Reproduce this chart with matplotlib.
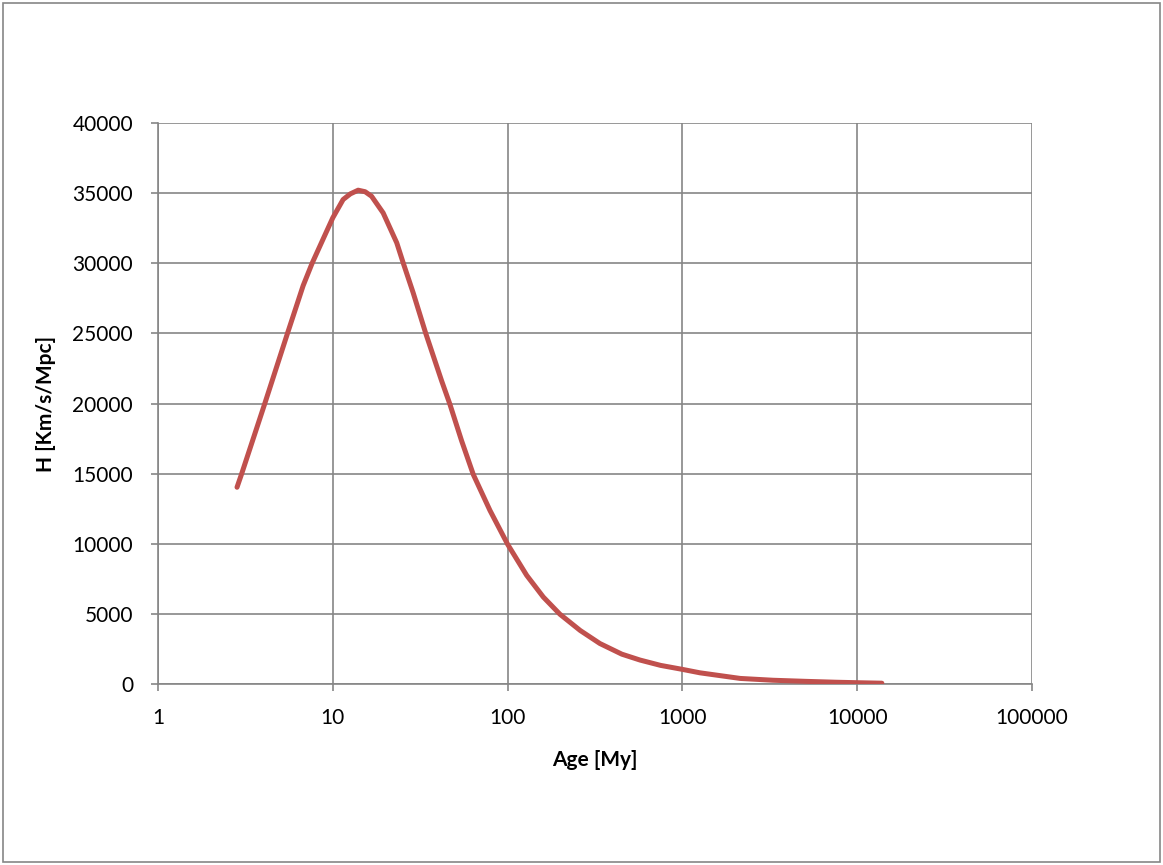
import matplotlib.pyplot as plt
from matplotlib.patches import Rectangle

# values
age = [2.83, 3.01, 4.08, 5.5, 6.76, 7.61, 8.07, 9.0, 10, 11.45, 12.6, 13.96,
       15.3, 16.65, 19.4, 23.2, 25.3, 28.8, 34, 41.9, 46.7, 54.5, 63.6, 79.2,
       100, 128.5, 160, 199, 260, 337, 450, 572, 750, 1000, 1260, 2140, 3300,
       5140, 7500, 10000, 13830]
hubble = [14030, 15000, 20000, 25000, 28400, 30000, 30700, 32000, 33250, 34545,
          34950, 35210, 35100, 34780, 33590, 31460, 30000, 27900, 25000, 21620,
          19960, 17350, 14940, 12380, 9960, 7750, 6200, 4980, 3820, 2890, 2130,
          1710, 1330, 1045, 800, 400, 270, 190, 130, 95, 60]

xticks = [1, 10, 100, 1000, 10000, 100000]
xlabels = ["1", "10", "100", "1000", "10000", "100000"]
yticks = list(range(0, 40001, 5000))

plt.rcParams['font.family'] = ['Lato', 'DejaVu Sans']
grid_col = "#868686"

fig = plt.figure(figsize=(11.63, 8.65), dpi=100)
ax = fig.add_axes([0.1359, 0.2092, 0.7515, 0.6486])

ax.plot(age, hubble, color="#C0504D", lw=3.6, solid_capstyle="round",
        solid_joinstyle="round", zorder=3)

ax.set_xscale("log")
ax.set_xlim(1, 100000)
ax.set_ylim(0, 40000)
ax.set_xticks(xticks)
ax.set_xticklabels(xlabels)
ax.minorticks_off()
ax.set_yticks(yticks)
ax.set_yticklabels([str(v) for v in yticks])

ax.grid(True, color=grid_col, lw=1.2)
ax.set_axisbelow(True)
for s in ["top", "right"]:
    ax.spines[s].set_visible(False)
for s in ["left", "bottom"]:
    ax.spines[s].set_color(grid_col)
    ax.spines[s].set_linewidth(1.2)
ax.tick_params(axis="both", colors=grid_col, labelcolor="black", labelsize=15,
               length=5, width=1.2)
ax.tick_params(axis="y", pad=13)
ax.tick_params(axis="x", pad=12)

ax.set_xlabel("Age [My]", fontsize=15, fontweight="bold", labelpad=16)
ax.set_ylabel("H [Km/s/Mpc]", fontsize=15, fontweight="bold", labelpad=12)

fig.patches.append(Rectangle((0.003, 0.004), 0.994, 0.992, transform=fig.transFigure,
                             fill=False, edgecolor=grid_col, lw=1.2))

fig.savefig("out.png", dpi=100)
